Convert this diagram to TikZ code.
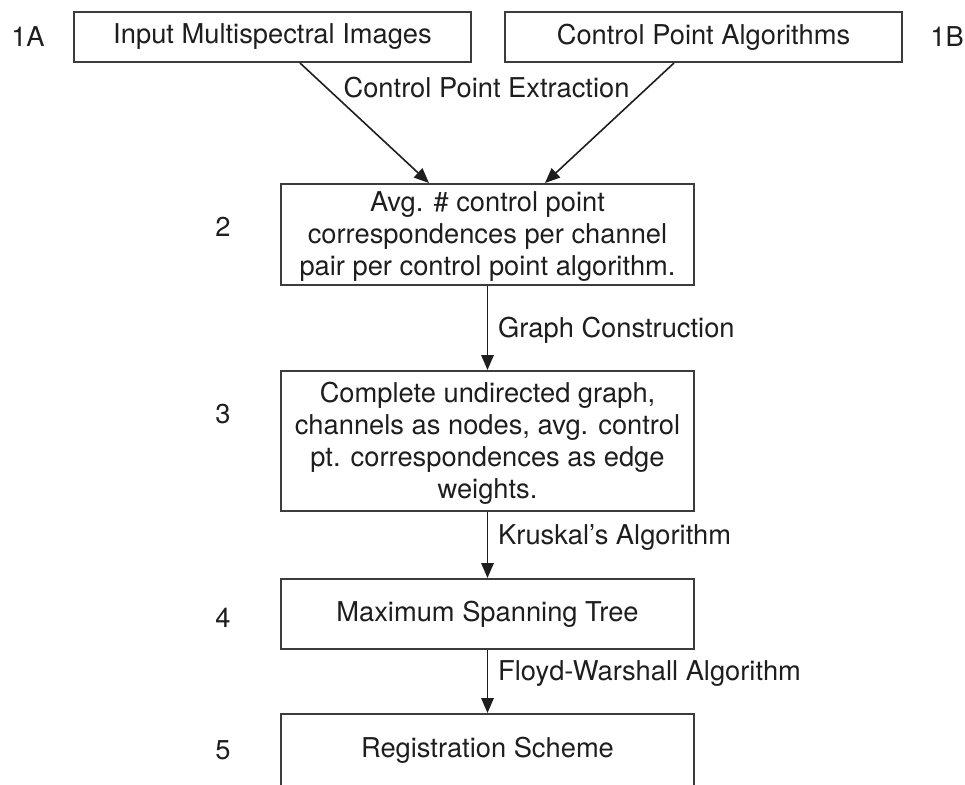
\documentclass[tikz,border=0pt]{standalone}
\usepackage{fontspec}
\setmainfont{TeX Gyre Heros}
\usetikzlibrary{arrows.meta}
\definecolor{ink}{HTML}{1E1E1E}
\definecolor{edgegray}{HTML}{3C3C3C}
\begin{document}
\begin{tikzpicture}[x=1pt,y=-1pt,
  font=\fontsize{27.3}{32}\selectfont,
  box/.style={draw=edgegray, line width=2pt, inner sep=0pt, align=center,
              text=ink, minimum width=#1},
  steplbl/.style={text=ink, inner sep=0pt},
  edgelbl/.style={text=ink, inner sep=0pt, anchor=west},
  arr/.style={draw=ink, line width=1.6pt, -{Triangle[length=15pt,width=12.5pt]}}]

\useasboundingbox (0,0) rectangle (965,784);
\clip (0,0) rectangle (965,784);

% process boxes
\node[box=397pt, minimum height=50pt] (inp) at (272.5,37) {Input Multispectral Images};
\node[box=397pt, minimum height=50pt] (alg) at (703.5,37) {Control Point Algorithms};
\node[box=413pt, minimum height=101pt] (avg) at (487.5,234.5) {};
\node[steplbl, align=center] (avgtxt) at (487.5,237)
  {Avg. \# control point\\correspondences per channel\\pair per control point algorithm.};
\node[box=413pt, minimum height=140pt] (graph) at (487.5,441) {};
\node[steplbl, align=center] (graphtxt) at (487.5,443)
  {Complete undirected graph,\\channels as nodes, avg. control\\pt. correspondences as edge\\weights.};
\node[box=413pt, minimum height=70pt] (mst) at (487.5,614) {Maximum Spanning Tree};
\node[box=413pt, minimum height=76pt] (reg) at (487.5,752) {};
\node[steplbl] (regtxt) at (487.5,750) {Registration Scheme};

% step numbers
\node[steplbl] (s1a) at (28,37) {1A};
\node[steplbl] (s1b) at (947,37) {1B};
\node[steplbl] (s2) at (223,227) {2};
\node[steplbl] (s3) at (223,414) {3};
\node[steplbl] (s4) at (223,618) {4};
\node[steplbl] (s5) at (223,750) {5};

% connectors
\draw[arr] ([xshift=27.5pt]inp.south) -- ([xshift=-58.5pt]avg.north);
\draw[arr] ([xshift=-29.5pt]alg.south) -- ([xshift=57.5pt]avg.north);
\node[steplbl] (cpe) at (486.5,88) {Control Point Extraction};

\draw[arr] (avg.south) -- (graph.north);
\node[edgelbl] (gc) at (498,330) {Graph Construction};

\draw[arr] (graph.south) -- (mst.north);
\node[edgelbl] (kr) at (498,538) {Kruskal’s Algorithm};

\draw[arr] (mst.south) -- (reg.north);
\node[edgelbl] (fw) at (498,674) {Floyd-Warshall Algorithm};
\end{tikzpicture}
\end{document}
